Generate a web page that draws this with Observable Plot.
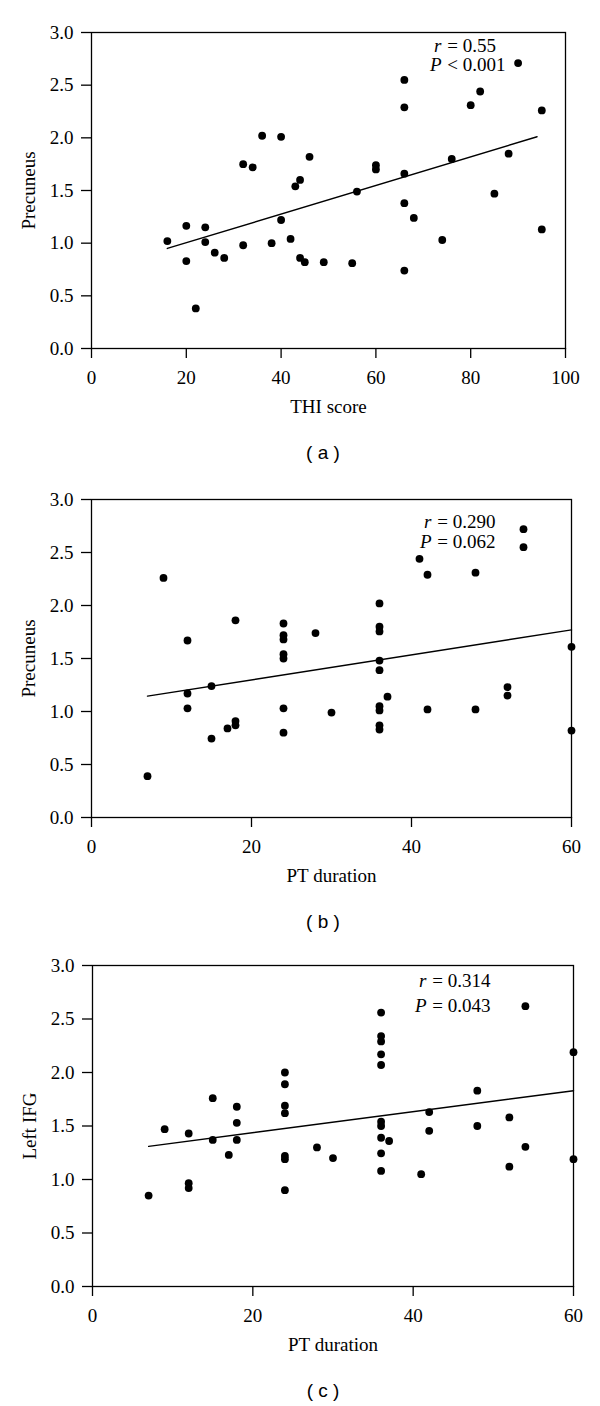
<!DOCTYPE html>
<html>
<head>
<meta charset="utf-8">
<script src="https://cdn.jsdelivr.net/npm/d3@7"></script>
<script src="https://cdn.jsdelivr.net/npm/@observablehq/plot@0.6"></script>
<style>
  html, body { margin: 0; padding: 0; background: #fff; }
  #root { position: relative; width: 600px; height: 1406px; overflow: hidden; background: #fff; }
  .panel { position: absolute; left: 0; }
  .cap { position: absolute; left: 273px; width: 100px; text-align: center;
         font-family: "Liberation Sans", Arial, sans-serif; font-size: 19px; line-height: 22px; color: #000; }
</style>
</head>
<body>
<div id="root"></div>
<script>
// ---------- Data ----------
// Panel (a): THI score vs Precuneus
const thiScore = [66, 90, 66, 82, 80, 95, 36, 40, 32, 34, 46, 60, 60, 66, 76, 88, 44, 43, 56, 85,
                  66, 68, 40, 20, 24, 95, 16, 24, 74, 42, 32, 38, 26, 28, 20, 44, 45, 49, 55, 66, 22];
const precuneusA = [2.55, 2.71, 2.29, 2.44, 2.31, 2.26, 2.02, 2.01, 1.75, 1.72, 1.82, 1.74, 1.70, 1.66, 1.80, 1.85, 1.60, 1.54, 1.49, 1.47,
                    1.38, 1.24, 1.22, 1.165, 1.15, 1.13, 1.02, 1.01, 1.03, 1.04, 0.98, 1.00, 0.91, 0.86, 0.83, 0.86, 0.82, 0.82, 0.81, 0.74, 0.38];
const fitAx = [16, 94];
const fitAy = [0.95, 2.01];

// Panel (b): PT duration vs Precuneus
const ptDurationB = [7, 9, 12, 12, 12, 15, 15, 17, 18, 18, 18, 24, 24, 24, 24, 24, 24, 24, 28, 30,
                     36, 36, 36, 36, 36, 36, 36, 36, 36, 37, 41, 42, 42, 48, 48, 52, 52, 54, 54, 60, 60];
const precuneusB = [0.39, 2.26, 1.67, 1.17, 1.03, 1.24, 0.745, 0.84, 1.86, 0.91, 0.87, 1.83, 1.72, 1.68, 1.54, 1.50, 1.03, 0.80, 1.74, 0.99,
                    2.02, 1.80, 1.755, 1.48, 1.39, 1.05, 1.01, 0.87, 0.83, 1.14, 2.44, 2.29, 1.02, 2.31, 1.02, 1.23, 1.15, 2.72, 2.55, 1.61, 0.82];
const fitBx = [7, 60];
const fitBy = [1.145, 1.77];

// Panel (c): PT duration vs Left IFG
const ptDurationC = [7, 9, 12, 12, 12, 15, 15, 17, 18, 18, 18, 24, 24, 24, 24, 24, 24, 24, 28, 30,
                     36, 36, 36, 36, 36, 36, 36, 36, 36, 36, 37, 41, 42, 42, 48, 48, 52, 52, 54, 54, 60, 60];
const leftIFG = [0.85, 1.47, 1.43, 0.965, 0.92, 1.76, 1.37, 1.23, 1.68, 1.53, 1.37, 2.00, 1.89, 1.69, 1.62, 1.22, 1.19, 0.90, 1.30, 1.20,
                 2.56, 2.34, 2.29, 2.17, 2.07, 1.54, 1.50, 1.39, 1.245, 1.08, 1.36, 1.05, 1.63, 1.455, 1.83, 1.50, 1.58, 1.12, 2.62, 1.305, 2.19, 1.19];
const fitCx = [7, 60];
const fitCy = [1.31, 1.83];

// Ticks and labels
const yTicks = [0, 0.5, 1.0, 1.5, 2.0, 2.5, 3.0];
const xTicksA = [0, 20, 40, 60, 80, 100];
const xTicksBC = [0, 20, 40, 60];
const stats = {
  a: {r: " = 0.55", p: " < 0.001"},
  b: {r: " = 0.290", p: " = 0.062"},
  c: {r: " = 0.314", p: " = 0.043"}
};
const captions = ["( a )", "( b )", "( c )"];

// ---------- Drawing ----------
const zip = (xs, ys) => xs.map((x, i) => ({x, y: ys[i]}));
const root = document.getElementById("root");

function panel({xs, ys, fx, fy, xDomain, xTicks, xLabel, yLabel, st, top, plotH, mL, mR, annDx, annDyR, annDyP}) {
  const data = zip(xs, ys);
  const fit = zip(fx, fy);
  const mT = 32, mB = 72;
  const svg = Plot.plot({
    width: 600,
    height: mT + plotH + mB,
    marginTop: mT, marginBottom: mB, marginLeft: mL, marginRight: mR,
    style: {fontFamily: "'Liberation Serif', 'Times New Roman', serif", fontSize: "19px", color: "#000", background: "transparent", overflow: "visible"},
    x: {domain: xDomain},
    y: {domain: [0, 3]},
    marks: [
      Plot.frame({stroke: "#000", strokeWidth: 1.3}),
      Plot.axisX({ticks: xTicks, tickSize: 10, tickPadding: 12, tickFormat: d => String(d), strokeWidth: 1.3,
                  label: xLabel, labelAnchor: "center", labelOffset: 64, labelArrow: false}),
      Plot.axisY({ticks: yTicks, tickSize: 10, tickPadding: 8, tickFormat: d => d.toFixed(1), strokeWidth: 1.3,
                  label: yLabel, labelAnchor: "center", labelOffset: 70, labelArrow: false}),
      Plot.line(fit, {x: "x", y: "y", stroke: "#000", strokeWidth: 1.4}),
      Plot.dot(data, {x: "x", y: "y", r: 3.9, fill: "#000", stroke: "none"}),
      Plot.text([st], {text: () => "r", frameAnchor: "top-left", dx: annDx, dy: annDyR, textAnchor: "end", lineAnchor: "middle", fontStyle: "italic", fill: "#000"}),
      Plot.text([st], {text: d => d.r, frameAnchor: "top-left", dx: annDx + 1, dy: annDyR, textAnchor: "start", lineAnchor: "middle", fill: "#000"}),
      Plot.text([st], {text: () => "P", frameAnchor: "top-left", dx: annDx, dy: annDyP, textAnchor: "end", lineAnchor: "middle", fontStyle: "italic", fill: "#000"}),
      Plot.text([st], {text: d => d.p, frameAnchor: "top-left", dx: annDx + 1, dy: annDyP, textAnchor: "start", lineAnchor: "middle", fill: "#000"})
    ]
  });
  svg.classList.add("panel");
  svg.style.top = top + "px";
  root.appendChild(svg);
}

panel({xs: thiScore, ys: precuneusA, fx: fitAx, fy: fitAy, xDomain: [0, 100], xTicks: xTicksA,
       xLabel: "THI score", yLabel: "Precuneus", st: stats.a, top: 0, plotH: 316, mL: 91, mR: 35,
       annDx: 350, annDyR: 13, annDyP: 32});
panel({xs: ptDurationB, ys: precuneusB, fx: fitBx, fy: fitBy, xDomain: [0, 60], xTicks: xTicksBC,
       xLabel: "PT duration", yLabel: "Precuneus", st: stats.b, top: 467, plotH: 318, mL: 91, mR: 29,
       annDx: 340, annDyR: 22, annDyP: 42});
panel({xs: ptDurationC, ys: leftIFG, fx: fitCx, fy: fitCy, xDomain: [0, 60], xTicks: xTicksBC,
       xLabel: "PT duration", yLabel: "Left IFG", st: stats.c, top: 933, plotH: 321, mL: 92, mR: 27,
       annDx: 334, annDyR: 15, annDyP: 40});

const capY = [453, 922, 1391];
captions.forEach((c, i) => {
  const d = document.createElement("div");
  d.className = "cap";
  d.textContent = c;
  d.style.top = (capY[i] - 11) + "px";
  root.appendChild(d);
});
</script>
</body>
</html>
